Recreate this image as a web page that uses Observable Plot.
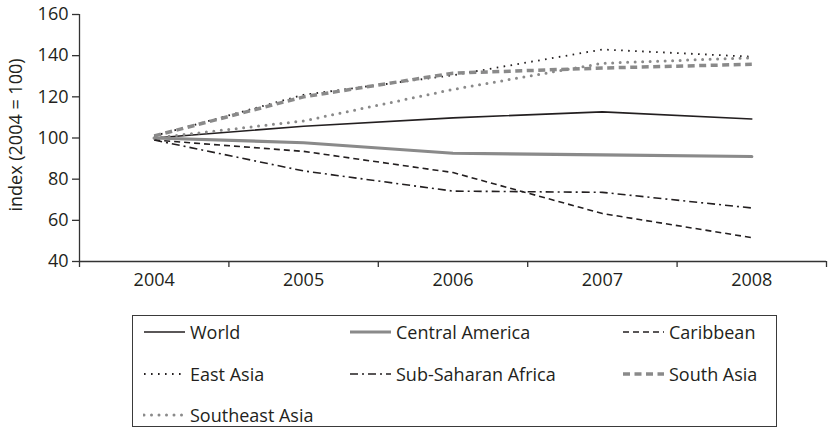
<!DOCTYPE html>
<html>
<head>
<meta charset="utf-8">
<script src="https://cdn.jsdelivr.net/npm/d3@7"></script>
<script src="https://cdn.jsdelivr.net/npm/@observablehq/plot@0.6"></script>
<style>
  html, body { margin: 0; padding: 0; background: #fff; }
  body { width: 829px; height: 429px; position: relative; font-family: "Open Sans", sans-serif; color: #231f20; overflow: hidden; }
  #chart { position: absolute; left: 0; top: 0; }
  #legend { position: absolute; left: 132px; top: 315px; width: 645px; height: 112px; border: 1.3px solid #3a3a3a; box-sizing: border-box; }
  .item { position: absolute; height: 24px; display: flex; align-items: center; font-size: 18px; white-space: nowrap; }
  .item svg { margin-right: 4px; }
</style>
</head>
<body>
<div id="chart"></div>
<div id="legend"></div>
<script>
const years = [2004, 2005, 2006, 2007, 2008];
const yTicks = [40, 60, 80, 100, 120, 140, 160];
const seriesNames = ["World", "Central America", "Caribbean", "East Asia", "Sub-Saharan Africa", "South Asia", "Southeast Asia"];
const world = [100, 105.7, 109.8, 112.7, 109.2];
const centralAmerica = [100, 97.7, 92.6, 91.8, 91.0];
const caribbean = [99, 93.5, 83.2, 63.3, 51.6];
const eastAsia = [101, 121, 130.5, 143, 139.5];
const subSaharanAfrica = [99, 84, 74.2, 73.6, 66];
const southAsia = [101, 120, 131.5, 134, 135.8];
const southeastAsia = [100, 108.3, 123.6, 136.3, 139];

const black = "#231f20";
const gray = "#8a8a8a";
const styles = {
  "World": {stroke: black, strokeWidth: 1.6},
  "Central America": {stroke: gray, strokeWidth: 3.2},
  "Caribbean": {stroke: black, strokeWidth: 1.6, strokeDasharray: "6,4", strokeLinecap: "butt"},
  "East Asia": {stroke: black, strokeWidth: 1.8, strokeDasharray: "1.6,5.4", strokeLinecap: "butt"},
  "Sub-Saharan Africa": {stroke: black, strokeWidth: 1.6, strokeDasharray: "8,4,2,4", strokeLinecap: "butt"},
  "South Asia": {stroke: gray, strokeWidth: 3.5, strokeDasharray: "7,4.5", strokeLinecap: "butt"},
  "Southeast Asia": {stroke: gray, strokeWidth: 3, strokeDasharray: "0,7.5", strokeLinecap: "round"}
};
const values = [world, centralAmerica, caribbean, eastAsia, subSaharanAfrica, southAsia, southeastAsia];
const bounds = [2003.5, 2004.5, 2005.5, 2006.5, 2007.5, 2008.5];

const lineMarks = seriesNames.map((name, i) => {
  const rows = years.map((y, j) => ({year: y, value: values[i][j]}));
  return Plot.lineY(rows, {x: "year", y: "value", ...styles[name]});
});

const chart = Plot.plot({
  width: 829,
  height: 300,
  marginLeft: 79,
  marginRight: 3,
  marginTop: 14,
  marginBottom: 39,
  style: {fontFamily: "'Open Sans', sans-serif", fontSize: "18px", color: black, background: "#fff"},
  x: {domain: [2003.5, 2008.5], axis: null},
  y: {domain: [40, 160], axis: null},
  marks: [
    Plot.axisY({ticks: yTicks, tickSize: 7, tickPadding: 4, label: null, stroke: "#333", strokeWidth: 1.3, fill: black}),
    Plot.ruleX([2003.5], {stroke: "#333", strokeWidth: 1.3}),
    Plot.axisX({ticks: bounds, tickSize: 6, tickFormat: () => "", label: null, stroke: "#333", strokeWidth: 1.3}),
    Plot.axisX({ticks: years, tickSize: 0, tickPadding: 12, tickFormat: d => String(d), label: null, fill: black}),
    Plot.ruleY([40], {stroke: "#333", strokeWidth: 1.3}),
    ...lineMarks,
    Plot.text(["index (2004 = 100)"], {text: d => d, frameAnchor: "left", textAnchor: "middle", rotate: -90, dx: -63, dy: -3, fill: black, fontSize: 18})
  ]
});
document.getElementById("chart").append(chart);

// Legend
const legend = document.getElementById("legend");
const colLeft = [10, 216, 489];
const rowCenter = [17, 59, 100];
seriesNames.forEach((name, i) => {
  const col = i % 3, row = Math.floor(i / 3);
  const item = document.createElement("div");
  item.className = "item";
  item.style.left = colLeft[col] + "px";
  item.style.top = (rowCenter[row] - 12 - 1) + "px";
  const s = styles[name];
  const svg = d3.create("svg").attr("width", 43).attr("height", 10);
  svg.append("line").attr("x1", 1).attr("x2", 42).attr("y1", 5).attr("y2", 5)
    .attr("stroke", s.stroke).attr("stroke-width", s.strokeWidth)
    .attr("stroke-dasharray", s.strokeDasharray || null)
    .attr("stroke-linecap", s.strokeLinecap || "butt");
  item.append(svg.node());
  const span = document.createElement("span");
  span.textContent = name;
  item.append(span);
  legend.append(item);
});
</script>
</body>
</html>
